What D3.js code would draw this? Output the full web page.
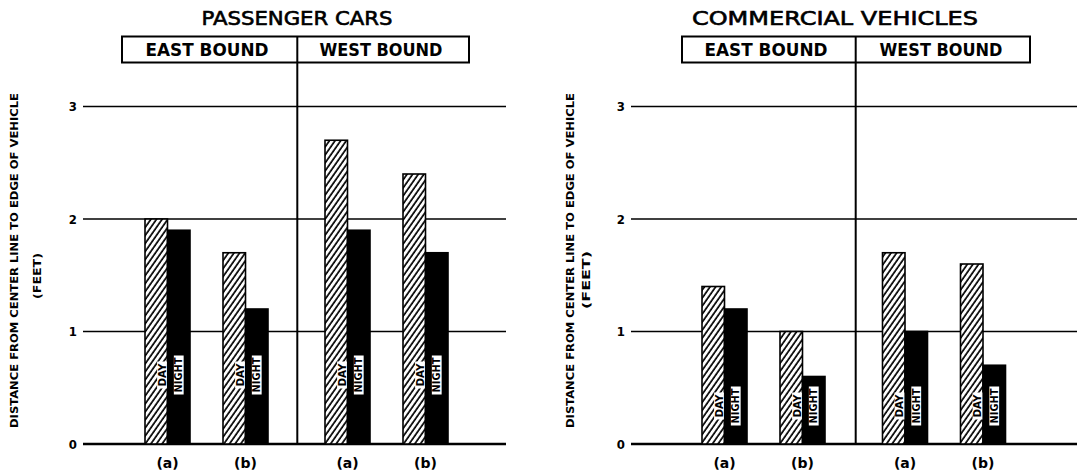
<!DOCTYPE html>
<html>
<head>
<meta charset="utf-8">
<script src="https://cdn.jsdelivr.net/npm/d3@7"></script>
<style>
  html, body { margin: 0; padding: 0; background: #fff; }
  svg { display: block; }
  text { font-family: "DejaVu Sans", "Liberation Sans", sans-serif; fill: #000; }
</style>
</head>
<body>
<svg id="chart" width="1082" height="473"></svg>
<script>
// ---- data ----
const directions = ["EAST BOUND", "WEST BOUND"];
const groups = ["(a)", "(b)"];
const times = ["DAY", "NIGHT"];
const yTicks = [0, 1, 2, 3];
const yAxisTitle = "DISTANCE  FROM  CENTER LINE TO EDGE OF VEHICLE";
const yAxisUnit = "(FEET)";

const passengerTitle = "PASSENGER CARS";
const passengerDay   = [2.0, 1.7, 2.7, 2.4];   // E(a), E(b), W(a), W(b)
const passengerNight = [1.9, 1.2, 1.9, 1.7];

const commercialTitle = "COMMERCIAL VEHICLES";
const commercialDay   = [1.4, 1.0, 1.7, 1.6];
const commercialNight = [1.2, 0.6, 1.0, 0.7];

// ---- drawing ----
const svg = d3.select("#chart");
const defs = svg.append("defs");
const pat = defs.append("pattern")
  .attr("id", "hatch")
  .attr("patternUnits", "userSpaceOnUse")
  .attr("width", 4.6).attr("height", 10)
  .attr("patternTransform", "rotate(35)");
pat.append("rect").attr("width", 4.6).attr("height", 10).attr("fill", "#fff");
pat.append("line").attr("x1", 1).attr("x2", 1).attr("y1", 0).attr("y2", 10)
  .attr("stroke", "#000").attr("stroke-width", 1.7);

const y = d3.scaleLinear().domain([0, 3]).range([444, 106.5]);

function drawPanel(cfg) {
  const g = svg.append("g");
  const dirX = d3.scaleOrdinal().domain(directions).range(cfg.dirCenters);
  const grpX = d3.scalePoint().domain(groups).range([0, 78]);
  const timeX = d3.scaleBand().domain(times).range([-22.5, 22.5]);

  const rows = [];
  cfg.day.forEach((v, i) => {
    const dir = directions[Math.floor(i / 2)], grp = groups[i % 2];
    rows.push({dir, grp, time: "DAY", value: v});
    rows.push({dir, grp, time: "NIGHT", value: cfg.night[i]});
  });
  const cx = d => dirX(d.dir) + grpX(d.grp);

  // gridlines
  g.selectAll(".grid").data(yTicks).join("line")
    .attr("x1", cfg.x0).attr("x2", cfg.x1)
    .attr("y1", d => y(d)).attr("y2", d => y(d))
    .attr("stroke", "#000")
    .attr("stroke-width", d => d === 0 ? 2.7 : 1.6);

  // tick labels
  g.selectAll(".tick").data(yTicks).join("text")
    .attr("x", cfg.x0 - 6).attr("y", d => y(d)).attr("dy", "0.36em")
    .attr("text-anchor", "end")
    .style("font-family", "'DejaVu Sans Condensed', 'DejaVu Sans', sans-serif")
    .style("font-weight", "bold").style("font-size", "13px")
    .text(d => d);

  // divider
  g.append("line")
    .attr("x1", cfg.divider).attr("x2", cfg.divider)
    .attr("y1", 36.5).attr("y2", y(0))
    .attr("stroke", "#000").attr("stroke-width", 2);

  // header box
  g.append("rect")
    .attr("x", cfg.boxX0).attr("y", 36.5)
    .attr("width", cfg.boxX1 - cfg.boxX0).attr("height", 26)
    .attr("fill", "none").attr("stroke", "#000").attr("stroke-width", 2);
  g.selectAll(".hdr").data(directions).join("text")
    .attr("x", (d, i) => cfg.hdrCenters[i]).attr("y", 55.5)
    .attr("text-anchor", "middle")
    .attr("textLength", 123).attr("lengthAdjust", "spacingAndGlyphs")
    .style("font-weight", "bold").style("font-size", "17px")
    .text(d => d);

  // title
  g.append("text")
    .attr("x", cfg.titleX).attr("y", 25)
    .attr("text-anchor", "middle")
    .attr("textLength", cfg.titleLen).attr("lengthAdjust", "spacingAndGlyphs")
    .attr("stroke", "#000").attr("stroke-width", 0.6)
    .style("font-size", "19px")
    .text(cfg.title);

  // bars
  g.selectAll(".bar").data(rows).join("rect")
    .attr("x", d => cx(d) + timeX(d.time))
    .attr("width", timeX.bandwidth())
    .attr("y", d => y(d.value))
    .attr("height", d => y(0) - y(d.value))
    .attr("fill", d => d.time === "DAY" ? "url(#hatch)" : "#000")
    .attr("stroke", "#000").attr("stroke-width", 1.6);

  // in-bar labels
  const lab = g.selectAll(".lab").data(rows).join("g")
    .attr("transform", d => {
      const bx = cx(d) + timeX(d.time);
      const lx = d.time === "DAY" ? bx + timeX.bandwidth() - 5.5 : bx + timeX.bandwidth() / 2;
      return `translate(${lx},${cfg.labelY}) rotate(-90)`;
    });
  lab.append("rect")
    .attr("x", d => d.time === "DAY" ? -13.5 : -19.5)
    .attr("width", d => d.time === "DAY" ? 27 : 39)
    .attr("y", -4.9).attr("height", 9.8)
    .attr("fill", "#fff");
  lab.append("text")
    .attr("text-anchor", "middle").attr("dy", "0.36em")
    .attr("textLength", d => d.time === "DAY" ? 23 : 35)
    .attr("lengthAdjust", "spacingAndGlyphs")
    .style("font-weight", "bold").style("font-size", "10px")
    .text(d => d.time);

  // group labels
  const gl = rows.filter(d => d.time === "DAY");
  g.selectAll(".glab").data(gl).join("text")
    .attr("x", d => cx(d)).attr("y", 468)
    .attr("text-anchor", "middle")
    .style("font-weight", "bold").style("font-size", "14px")
    .text(d => d.grp);

  // y-axis title
  g.append("text")
    .attr("transform", `translate(${cfg.yTitleX},260.5) rotate(-90)`)
    .attr("text-anchor", "middle")
    .attr("textLength", 335).attr("lengthAdjust", "spacingAndGlyphs")
    .style("font-weight", "bold").style("font-size", "10.5px")
    .text(yAxisTitle);
  g.append("text")
    .attr("transform", `translate(${cfg.yUnitX},${cfg.yUnitY}) rotate(-90)`)
    .attr("text-anchor", "middle")
    .attr("textLength", cfg.yUnitLen).attr("lengthAdjust", "spacingAndGlyphs")
    .style("font-weight", "bold").style("font-size", "10.5px")
    .text(yAxisUnit);
}

drawPanel({
  title: passengerTitle, day: passengerDay, night: passengerNight,
  dirCenters: [167.5, 347.5], x0: 83, x1: 506, divider: 297.3,
  boxX0: 122, boxX1: 469, hdrCenters: [207, 381],
  titleX: 297, titleLen: 191, labelY: 375,
  yTitleX: 17.5, yUnitX: 40.5, yUnitY: 276, yUnitLen: 46
});
drawPanel({
  title: commercialTitle, day: commercialDay, night: commercialNight,
  dirCenters: [724.5, 905], x0: 631, x1: 1077, divider: 855.7,
  boxX0: 682, boxX1: 1030, hdrCenters: [766, 941],
  titleX: 835, titleLen: 286, labelY: 406,
  yTitleX: 573.5, yUnitX: 590, yUnitY: 280, yUnitLen: 58
});
</script>
</body>
</html>
